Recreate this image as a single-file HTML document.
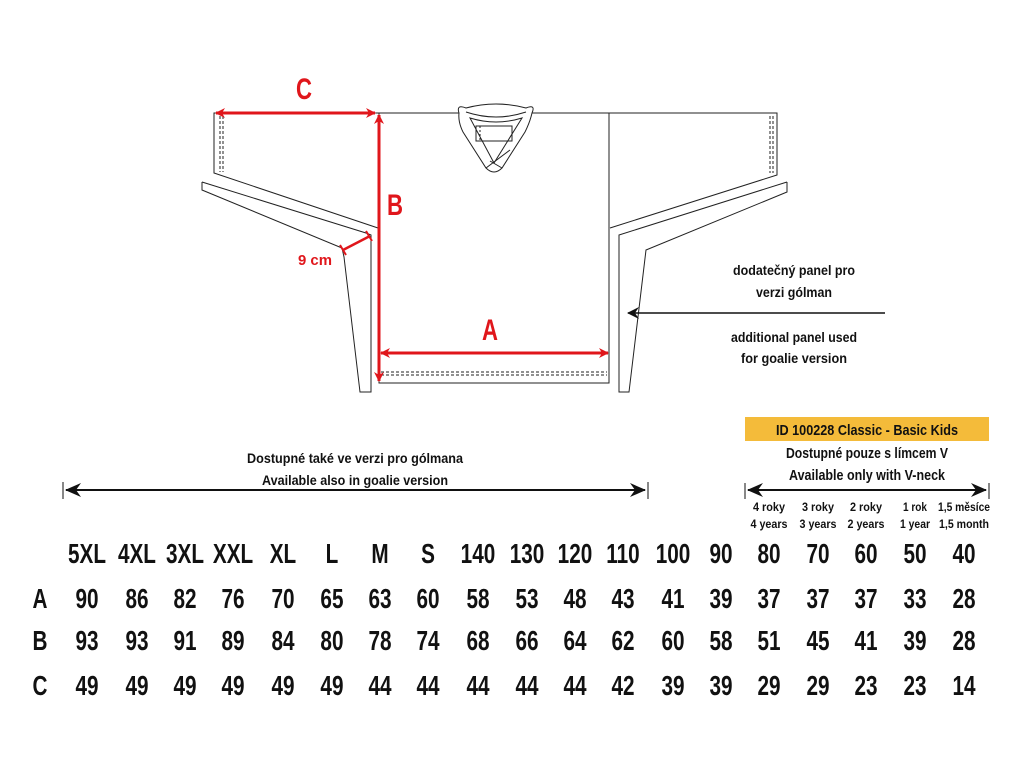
<!DOCTYPE html>
<html><head><meta charset="utf-8"><style>
html,body{margin:0;padding:0;background:#fff;}
svg{display:block;}
text{font-family:"Liberation Sans",sans-serif;font-weight:bold;fill:#111;}
</style></head><body>
<svg width="1024" height="768" viewBox="0 0 1024 768" xmlns="http://www.w3.org/2000/svg">
<defs>
<marker id="ra" markerWidth="10" markerHeight="10" refX="9" refY="5" orient="auto" markerUnits="userSpaceOnUse"><path d="M0,0 L10,5 L0,10 L3,5 Z" fill="#e0161b"/></marker>
<marker id="ba" markerWidth="12" markerHeight="12" refX="11" refY="6" orient="auto" markerUnits="userSpaceOnUse"><path d="M0,0 L12,6 L0,12 L4,6 Z" fill="#111"/></marker>
<marker id="ba2" markerWidth="16" markerHeight="14" refX="15" refY="7" orient="auto" markerUnits="userSpaceOnUse"><path d="M0,0 L16,7 L0,14 L5,7 Z" fill="#111"/></marker>
</defs>
<g fill="none" stroke="#222" stroke-width="1">
<path d="M379,113 L459,113 M532,113 L609,113 L609,383 L379,383 L379,113"/>
<path d="M381,372 L607,372 M381,375 L607,375" stroke-dasharray="3,2"/>
<path d="M459,113 Q456,104 466,108 Q496,100 526,108 Q536,104 532,113 Q530,122 525,132 L502,168 Q494,176 486,168 L463,132 Q458,122 459,113 Z"/>
<path d="M466,112 Q496,122 526,112"/>
<path d="M470,118 Q496,126 522,118 L494,163 Z"/>
<path d="M476,126 L512,126 L512,141 L476,141 Z"/>
<path d="M480,126 L480,141" stroke-dasharray="2,2"/>
<path d="M486,168 L510,150 M490,161 L502,168"/>
<path d="M379,113 L214,113 L214,173 L378,228"/>
<path d="M220,116 L220,172 M223,116 L223,172" stroke-dasharray="3,2"/>
<path d="M202,182 L202,190 L342,248 L344,257 L360,392 L371,392 L371,235 L366,233 L202,182"/>
<path d="M609,113 L777,113 L777,175 L610,228"/>
<path d="M770,116 L770,173 M773,116 L773,173" stroke-dasharray="3,2"/>
<path d="M787,182 L787,192 L646,250 L629,392 L619,392 L619,235 L787,182"/>
</g>
<g stroke="#e0161b" stroke-width="3" fill="none">
<line x1="218" y1="113" x2="375" y2="113" marker-end="url(#ra)"/>
<line x1="375" y1="113" x2="216" y2="113" marker-end="url(#ra)"/>
<line x1="379" y1="116" x2="379" y2="381" marker-end="url(#ra)"/>
<line x1="379" y1="381" x2="379" y2="115" marker-end="url(#ra)"/>
<line x1="382" y1="353" x2="608" y2="353" marker-end="url(#ra)"/>
<line x1="608" y1="353" x2="381" y2="353" marker-end="url(#ra)"/>
<line x1="343" y1="250" x2="370" y2="236" stroke-width="2.5"/>
<line x1="340" y1="245" x2="346" y2="255" stroke-width="2"/>
<line x1="366" y1="231" x2="372" y2="241" stroke-width="2"/>
</g>
<text x="296" y="99" font-size="30" textLength="16" lengthAdjust="spacingAndGlyphs" style="fill:#e0161b">C</text>
<text x="387" y="215" font-size="30" textLength="16" lengthAdjust="spacingAndGlyphs" style="fill:#e0161b">B</text>
<text x="482" y="340" font-size="30" textLength="16" lengthAdjust="spacingAndGlyphs" style="fill:#e0161b">A</text>
<text x="298" y="265" font-size="15" textLength="34" lengthAdjust="spacingAndGlyphs" style="fill:#e0161b">9 cm</text>
<line x1="885" y1="313" x2="628" y2="313" stroke="#111" stroke-width="1.5" marker-end="url(#ba)"/>
<g font-size="14" text-anchor="middle">
<text x="794" y="275" textLength="122" lengthAdjust="spacingAndGlyphs">dodatečný panel pro</text>
<text x="794" y="297" textLength="76" lengthAdjust="spacingAndGlyphs">verzi gólman</text>
<text x="794" y="342" textLength="126" lengthAdjust="spacingAndGlyphs">additional panel used</text>
<text x="794" y="363" textLength="106" lengthAdjust="spacingAndGlyphs">for goalie version</text>
<text x="355" y="463" textLength="216" lengthAdjust="spacingAndGlyphs">Dostupné také ve verzi pro gólmana</text>
<text x="355" y="485" textLength="186" lengthAdjust="spacingAndGlyphs">Available also in goalie version</text>
</g>
<line x1="63" y1="482" x2="63" y2="499" stroke="#111"/>
<line x1="648" y1="482" x2="648" y2="499" stroke="#111"/>
<line x1="66" y1="490" x2="645" y2="490" stroke="#111" stroke-width="2" marker-end="url(#ba2)"/>
<line x1="645" y1="490" x2="66" y2="490" stroke="#111" stroke-width="2" marker-end="url(#ba2)"/>
<rect x="745" y="417" width="244" height="24" fill="#f4bb3a"/>
<text x="867" y="435" font-size="15" text-anchor="middle" textLength="182" lengthAdjust="spacingAndGlyphs">ID 100228 Classic - Basic Kids</text>
<text x="867" y="458" font-size="15" text-anchor="middle" textLength="162" lengthAdjust="spacingAndGlyphs">Dostupné pouze s límcem V</text>
<text x="867" y="480" font-size="15" text-anchor="middle" textLength="156" lengthAdjust="spacingAndGlyphs">Available only with V-neck</text>
<line x1="745" y1="483" x2="745" y2="499" stroke="#111"/>
<line x1="989" y1="483" x2="989" y2="499" stroke="#111"/>
<line x1="748" y1="490" x2="986" y2="490" stroke="#111" stroke-width="2" marker-end="url(#ba2)"/>
<line x1="986" y1="490" x2="748" y2="490" stroke="#111" stroke-width="2" marker-end="url(#ba2)"/>
<g font-size="12" text-anchor="middle" lengthAdjust="spacingAndGlyphs">
<text x="769" y="511" textLength="32" lengthAdjust="spacingAndGlyphs">4 roky</text><text x="769" y="528" textLength="37" lengthAdjust="spacingAndGlyphs">4 years</text>
<text x="818" y="511" textLength="32" lengthAdjust="spacingAndGlyphs">3 roky</text><text x="818" y="528" textLength="37" lengthAdjust="spacingAndGlyphs">3 years</text>
<text x="866" y="511" textLength="32" lengthAdjust="spacingAndGlyphs">2 roky</text><text x="866" y="528" textLength="37" lengthAdjust="spacingAndGlyphs">2 years</text>
<text x="915" y="511" textLength="24" lengthAdjust="spacingAndGlyphs">1 rok</text><text x="915" y="528" textLength="30" lengthAdjust="spacingAndGlyphs">1 year</text>
<text x="964" y="511" textLength="52" lengthAdjust="spacingAndGlyphs">1,5 měsíce</text><text x="964" y="528" textLength="50" lengthAdjust="spacingAndGlyphs">1,5 month</text>
</g>
<g font-size="28" text-anchor="middle" transform="scale(0.74,1)">
<text x="54" y="608">A</text><text x="54" y="650">B</text><text x="54" y="695">C</text>
<text x="117.6" y="563">5XL</text><text x="185.1" y="563">4XL</text><text x="250" y="563">3XL</text><text x="314.9" y="563">XXL</text><text x="382.4" y="563">XL</text><text x="448.6" y="563">L</text><text x="513.5" y="563">M</text><text x="578.4" y="563">S</text><text x="645.9" y="563">140</text><text x="712.2" y="563">130</text><text x="777" y="563">120</text><text x="841.9" y="563">110</text><text x="909.5" y="563">100</text><text x="974.3" y="563">90</text><text x="1039.2" y="563">80</text><text x="1105.4" y="563">70</text><text x="1170.3" y="563">60</text><text x="1236.5" y="563">50</text><text x="1302.7" y="563">40</text>
<text x="117.6" y="608">90</text><text x="185.1" y="608">86</text><text x="250" y="608">82</text><text x="314.9" y="608">76</text><text x="382.4" y="608">70</text><text x="448.6" y="608">65</text><text x="513.5" y="608">63</text><text x="578.4" y="608">60</text><text x="645.9" y="608">58</text><text x="712.2" y="608">53</text><text x="777" y="608">48</text><text x="841.9" y="608">43</text><text x="909.5" y="608">41</text><text x="974.3" y="608">39</text><text x="1039.2" y="608">37</text><text x="1105.4" y="608">37</text><text x="1170.3" y="608">37</text><text x="1236.5" y="608">33</text><text x="1302.7" y="608">28</text>
<text x="117.6" y="650">93</text><text x="185.1" y="650">93</text><text x="250" y="650">91</text><text x="314.9" y="650">89</text><text x="382.4" y="650">84</text><text x="448.6" y="650">80</text><text x="513.5" y="650">78</text><text x="578.4" y="650">74</text><text x="645.9" y="650">68</text><text x="712.2" y="650">66</text><text x="777" y="650">64</text><text x="841.9" y="650">62</text><text x="909.5" y="650">60</text><text x="974.3" y="650">58</text><text x="1039.2" y="650">51</text><text x="1105.4" y="650">45</text><text x="1170.3" y="650">41</text><text x="1236.5" y="650">39</text><text x="1302.7" y="650">28</text>
<text x="117.6" y="695">49</text><text x="185.1" y="695">49</text><text x="250" y="695">49</text><text x="314.9" y="695">49</text><text x="382.4" y="695">49</text><text x="448.6" y="695">49</text><text x="513.5" y="695">44</text><text x="578.4" y="695">44</text><text x="645.9" y="695">44</text><text x="712.2" y="695">44</text><text x="777" y="695">44</text><text x="841.9" y="695">42</text><text x="909.5" y="695">39</text><text x="974.3" y="695">39</text><text x="1039.2" y="695">29</text><text x="1105.4" y="695">29</text><text x="1170.3" y="695">23</text><text x="1236.5" y="695">23</text><text x="1302.7" y="695">14</text>
</g>
</svg>
</body></html>
